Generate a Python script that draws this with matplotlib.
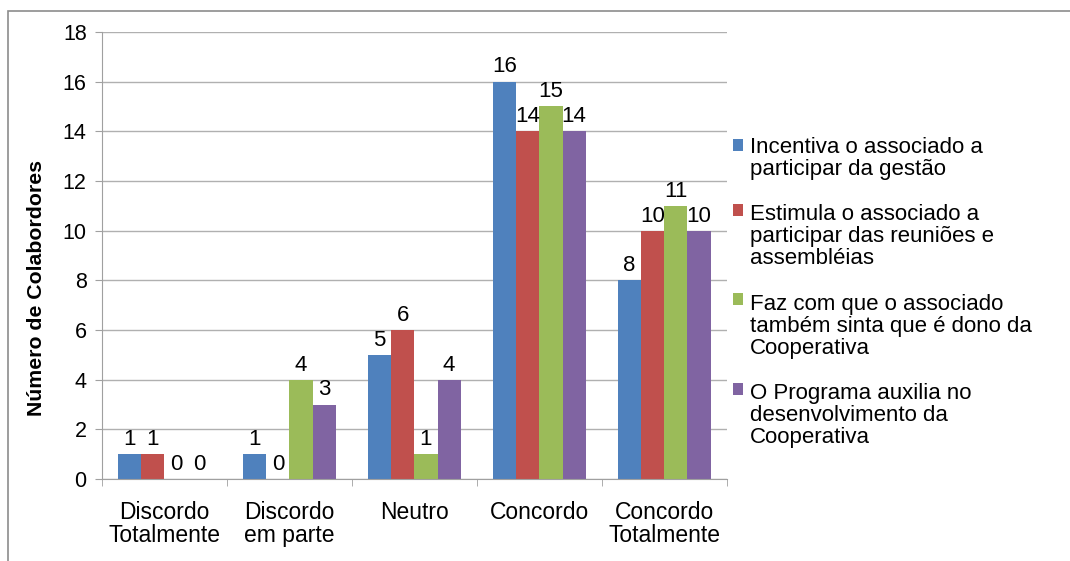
import matplotlib.pyplot as plt
import numpy as np
from matplotlib.patches import Rectangle
from matplotlib.legend_handler import HandlerPatch
from matplotlib.ticker import MultipleLocator

plt.rcParams['font.family'] = ['Liberation Sans', 'DejaVu Sans']

categories = ["Discordo\nTotalmente", "Discordo\nem parte", "Neutro", "Concordo", "Concordo\nTotalmente"]
series_names = [
    "Incentiva o associado a\nparticipar da gestão",
    "Estimula o associado a\nparticipar das reuniões e\nassembléias",
    "Faz com que o associado\ntambém sinta que é dono da\nCooperativa",
    "O Programa auxilia no\ndesenvolvimento da\nCooperativa",
]
incentiva = [1, 1, 5, 16, 8]
estimula = [1, 0, 6, 14, 10]
faz_com_que = [0, 4, 1, 15, 11]
programa = [0, 3, 4, 14, 10]
colors = ["#4F81BD", "#C0504D", "#9BBB59", "#8064A2"]

LEG_FS = 16
LEG_LS = 1.05


class TopAlignedHandler(HandlerPatch):
    # puts the colour square next to the first line of a multi-line label
    def __init__(self, nlines):
        super().__init__()
        self.nlines = nlines

    def create_artists(self, legend, orig_handle, xdescent, ydescent, width, height, fontsize, trans):
        shift = (self.nlines - 1) / 2 * LEG_LS * fontsize * 1.17
        p = Rectangle((-xdescent, -ydescent + shift), width, height,
                      facecolor=orig_handle.get_facecolor(), edgecolor="none", transform=trans)
        return [p]


fig = plt.figure(figsize=(10.7, 5.61), dpi=100)
ax = fig.add_axes([0.0953, 0.146, 0.584, 0.797])

# outer chart frame (top edge at ~11px, runs off the bottom/right)
top = 1 - 11 / 561
fig.patches.append(Rectangle((0.0075, -0.05), 0.998, top + 0.05, transform=fig.transFigure,
                             fill=False, edgecolor="#8c8c8c", linewidth=1.2))

x = np.arange(len(categories))
w = 0.185
all_series = [incentiva, estimula, faz_com_que, programa]
for i, (vals, name, c) in enumerate(zip(all_series, series_names, colors)):
    bars = ax.bar(x + (i - 1.5) * w, vals, w, color=c, label=name)
    ax.bar_label(bars, labels=[str(v) for v in vals], padding=3, fontsize=16)

ax.set_xlim(-0.5, 4.5)
ax.set_ylim(0, 18)
ax.yaxis.set_major_locator(MultipleLocator(2))
ax.set_xticks(x)
ax.set_xticklabels(categories, fontsize=16.5, linespacing=1.0)
ax.set_xticks(np.arange(-0.5, 5, 1), minor=True)
ax.tick_params(axis="x", which="major", length=0, pad=16)
ax.tick_params(axis="x", which="minor", length=5, color="#a0a0a0")
ax.tick_params(axis="y", labelsize=15.5, length=5, color="#a0a0a0", pad=6)
ax.set_ylabel("Número de Colabordores", fontsize=15.3, fontweight="bold")
ax.yaxis.set_label_coords(-0.09, 0.427)

ax.grid(axis="y", color="#b0b0b0", linewidth=1)
ax.set_axisbelow(True)
for s in ["top", "right"]:
    ax.spines[s].set_visible(False)
for s in ["left", "bottom"]:
    ax.spines[s].set_color("#a0a0a0")

proxies = [Rectangle((0, 0), 1, 1, facecolor=c) for c in colors]
hmap = {p: TopAlignedHandler(n.count("\n") + 1) for p, n in zip(proxies, series_names)}
leg = fig.legend(proxies, series_names, handler_map=hmap,
                 loc="upper left", bbox_to_anchor=(0.677, 0.772), frameon=False, fontsize=LEG_FS,
                 handlelength=0.45, handleheight=0.45, handletextpad=0.3, labelspacing=1.12,
                 borderaxespad=0)
for t in leg.get_texts():
    t.set_linespacing(LEG_LS)

fig.savefig("out.png", dpi=100)
